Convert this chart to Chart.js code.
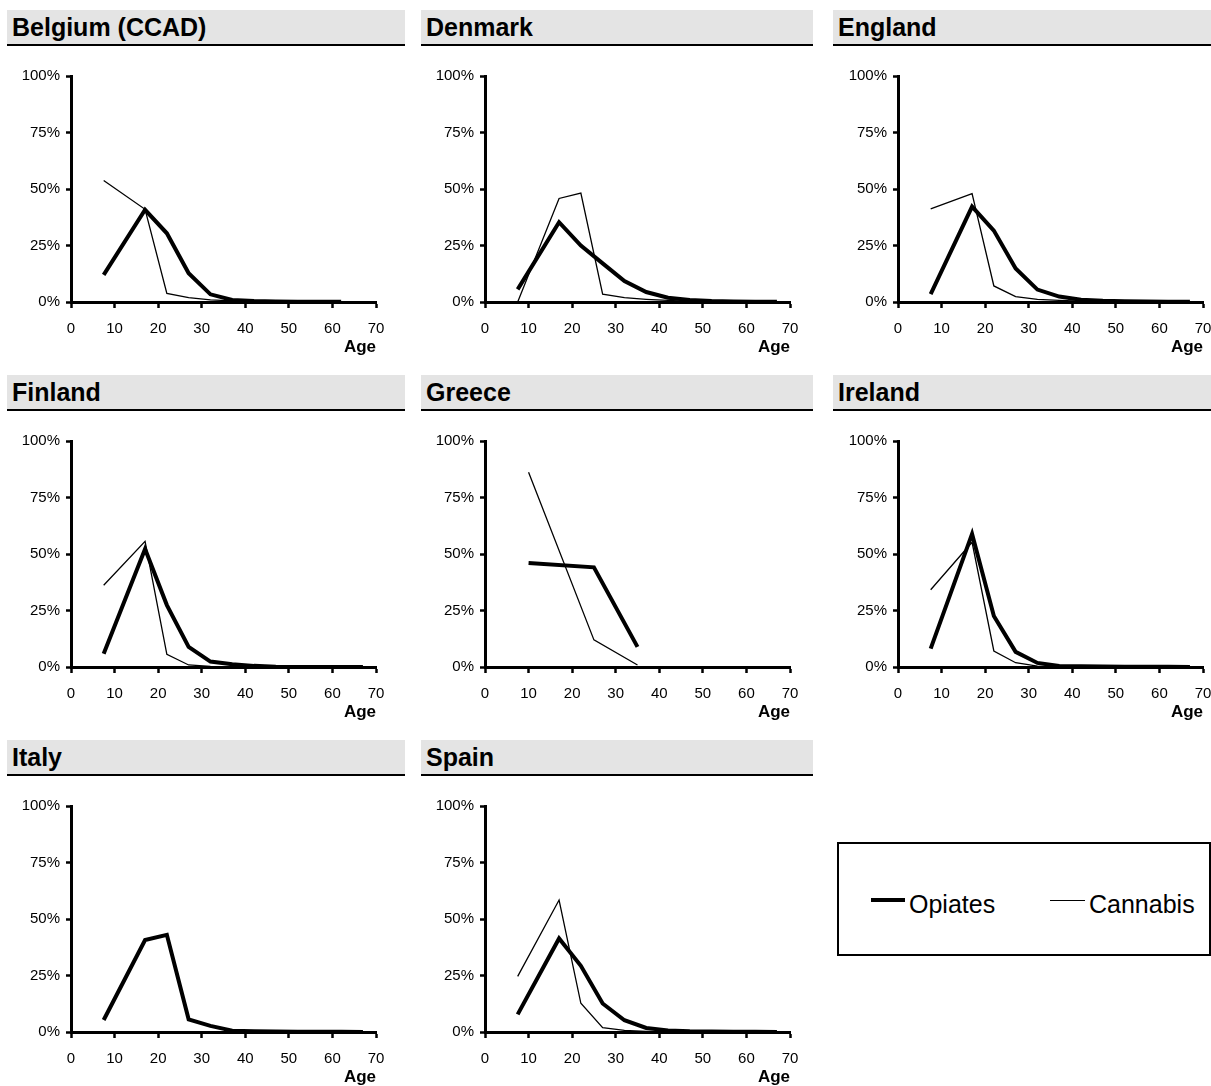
<!DOCTYPE html>
<html>
<head>
<meta charset="utf-8">
<script src="https://cdn.jsdelivr.net/npm/chart.js@4.4.0/dist/chart.umd.min.js"></script>
<style>
  body {
    margin: 0;
    width: 1211px;
    height: 1086px;
    overflow: hidden;
    position: relative;
    background: #fff;
    font-family: 'Liberation Sans', Arial, sans-serif;
  }
  .bar {
    position: absolute;
    height: 36px;
    box-sizing: border-box;
    background: #e4e4e4;
    border-bottom: 2px solid #000;
    font-weight: bold;
    font-size: 25px;
    line-height: 34px;
    padding-left: 5px;
    color: #000;
  }
  canvas { position: absolute; }
  .legend {
    position: absolute;
    left: 837px; top: 842px;
    width: 374px; height: 114px;
    box-sizing: border-box;
    border: 2px solid #000;
  }
  .swatch { position: absolute; background: #000; }
  .legend span {
    position: absolute;
    font-size: 25px;
    line-height: 25px;
    color: #000;
  }
</style>
</head>
<body>
<script>
// age group midpoints shared by most countries
const ages = [7.5, 17, 22, 27, 32, 37, 42, 47, 52, 57, 62, 67];
const greeceAges = [10, 25, 35];

// share of first treatment demand by age group (%)
const belgiumOpiates  = [12.0, 40.8, 30.4, 12.7, 3.4, 0.9, 0.4, 0.2, 0.1, 0.1, 0.1];
const belgiumCannabis = [53.8, 41.0, 3.8, 1.9, 0.9, 0.5, 0.2, 0.1, 0.1, 0.1, 0.0];

const denmarkOpiates  = [5.6, 35.3, 25.0, 17.1, 9.3, 4.4, 1.9, 0.9, 0.4, 0.2, 0.1, 0.1];
const denmarkCannabis = [0.0, 45.8, 48.2, 3.5, 1.9, 1.2, 0.7, 0.3, 0.2, 0.1, 0.1, 0.0];

const englandOpiates  = [3.5, 42.2, 31.6, 14.8, 5.5, 2.4, 1.0, 0.5, 0.3, 0.2, 0.1, 0.1];
const englandCannabis = [41.2, 48.0, 7.1, 2.4, 1.2, 0.7, 0.4, 0.2, 0.1, 0.1, 0.0, 0.0];

const finlandOpiates  = [5.9, 52.2, 27.4, 8.9, 2.4, 1.2, 0.5, 0.1, 0.0, 0.0, 0.0, 0.0];
const finlandCannabis = [36.2, 55.6, 5.6, 0.9, 0.3, 0.2, 0.1, 0.1, 0.0, 0.0, 0.0, 0.0];

const greeceOpiates  = [46.0, 44.1, 8.9];
const greeceCannabis = [86.2, 12.0, 0.9];

const irelandOpiates  = [8.1, 58.9, 22.6, 6.7, 1.8, 0.4, 0.3, 0.2, 0.1, 0.1, 0.1, 0.0];
const irelandCannabis = [34.2, 55.2, 7.1, 1.9, 0.4, 0.2, 0.1, 0.1, 0.0, 0.0, 0.0, 0.0];

const italyOpiates = [5.3, 40.7, 43.0, 5.6, 2.7, 0.6, 0.3, 0.2, 0.1, 0.1, 0.1, 0.0];

const spainOpiates  = [7.8, 41.4, 29.3, 12.6, 5.2, 1.8, 0.7, 0.3, 0.2, 0.1, 0.1, 0.0];
const spainCannabis = [24.6, 58.4, 12.7, 1.9, 0.7, 0.3, 0.1, 0.1, 0.0, 0.0, 0.0, 0.0];

const yTicks = [0, 25, 50, 75, 100];
const xTicks = [0, 10, 20, 30, 40, 50, 60, 70];

const panels = [
  { title: 'Belgium (CCAD)', ages: ages, opiates: belgiumOpiates, cannabis: belgiumCannabis },
  { title: 'Denmark', ages: ages, opiates: denmarkOpiates, cannabis: denmarkCannabis },
  { title: 'England', ages: ages, opiates: englandOpiates, cannabis: englandCannabis },
  { title: 'Finland', ages: ages, opiates: finlandOpiates, cannabis: finlandCannabis },
  { title: 'Greece', ages: greeceAges, opiates: greeceOpiates, cannabis: greeceCannabis },
  { title: 'Ireland', ages: ages, opiates: irelandOpiates, cannabis: irelandCannabis },
  { title: 'Italy', ages: ages, opiates: italyOpiates, cannabis: null },
  { title: 'Spain', ages: ages, opiates: spainOpiates, cannabis: spainCannabis },
];

Chart.defaults.font.family = "'Liberation Sans', Arial, sans-serif";
Chart.defaults.color = '#000';

const colLeft = [0, 414, 827];
const barLeft = [7, 421, 833];
const barWidth = [398, 392, 378];
const rowTop = [10, 375, 740];

function toPoints(xs, ys) {
  return ys.map((y, i) => ({ x: xs[i], y: y }));
}

function axisGrid(len) {
  return {
    display: true,
    drawOnChartArea: false,
    drawTicks: true,
    tickLength: len,
    tickWidth: 2.5,
    tickColor: '#000',
  };
}

panels.forEach((p, i) => {
  const col = i % 3;
  const row = Math.floor(i / 3);

  const bar = document.createElement('div');
  bar.className = 'bar';
  bar.style.left = barLeft[col] + 'px';
  bar.style.top = rowTop[row] + 'px';
  bar.style.width = barWidth[col] + 'px';
  bar.textContent = p.title;
  document.body.appendChild(bar);

  const canvas = document.createElement('canvas');
  canvas.width = 400;
  canvas.height = 310;
  canvas.style.left = colLeft[col] + 'px';
  canvas.style.top = (rowTop[row] + 40) + 'px';
  document.body.appendChild(canvas);

  const datasets = [{
    label: 'Opiates',
    data: toPoints(p.ages, p.opiates),
    borderColor: '#000',
    borderWidth: 4,
    pointRadius: 0,
  }];
  if (p.cannabis) {
    datasets.push({
      label: 'Cannabis',
      data: toPoints(p.ages, p.cannabis),
      borderColor: '#000',
      borderWidth: 1.3,
      pointRadius: 0,
    });
  }

  new Chart(canvas.getContext('2d'), {
    type: 'line',
    data: { datasets },
    options: {
      responsive: false,
      animation: false,
      devicePixelRatio: 1,
      layout: { padding: { top: 26, right: 24, bottom: 0, left: 0 } },
      plugins: { legend: { display: false }, tooltip: { enabled: false } },
      scales: {
        x: {
          type: 'linear',
          min: 0,
          max: 70,
          afterBuildTicks: s => { s.ticks = xTicks.map(v => ({ value: v })); },
          ticks: { padding: 12, maxRotation: 0, font: { size: 15 } },
          grid: axisGrid(6),
          border: { display: true, color: '#000', width: 3 },
          title: {
            display: true,
            text: 'Age',
            align: 'end',
            font: { size: 17, weight: 'bold' },
            padding: { top: 0, bottom: 2 },
          },
          afterFit: s => { s.height = 58; },
        },
        y: {
          min: 0,
          max: 100,
          afterBuildTicks: s => { s.ticks = yTicks.map(v => ({ value: v })); },
          ticks: { padding: 6, font: { size: 15 }, callback: v => v + '%' },
          grid: axisGrid(5),
          border: { display: true, color: '#000', width: 3 },
          afterFit: s => { s.width = 71; },
        },
      },
    },
  });
});

// legend box
const legend = document.createElement('div');
legend.className = 'legend';
document.body.appendChild(legend);

function legendItem(label, x, width, thickness, textX) {
  const line = document.createElement('div');
  line.className = 'swatch';
  line.style.left = (x - 837) + 'px';
  line.style.top = (898 - 842 - thickness / 2) + 'px';
  line.style.width = width + 'px';
  line.style.height = thickness + 'px';
  legend.appendChild(line);

  const text = document.createElement('span');
  text.style.left = (textX - 837) + 'px';
  text.style.top = (890 - 842) + 'px';
  text.textContent = label;
  legend.appendChild(text);
}

legendItem('Opiates', 869, 34, 4, 907);
legendItem('Cannabis', 1048, 35, 1, 1087);
</script>
</body>
</html>
